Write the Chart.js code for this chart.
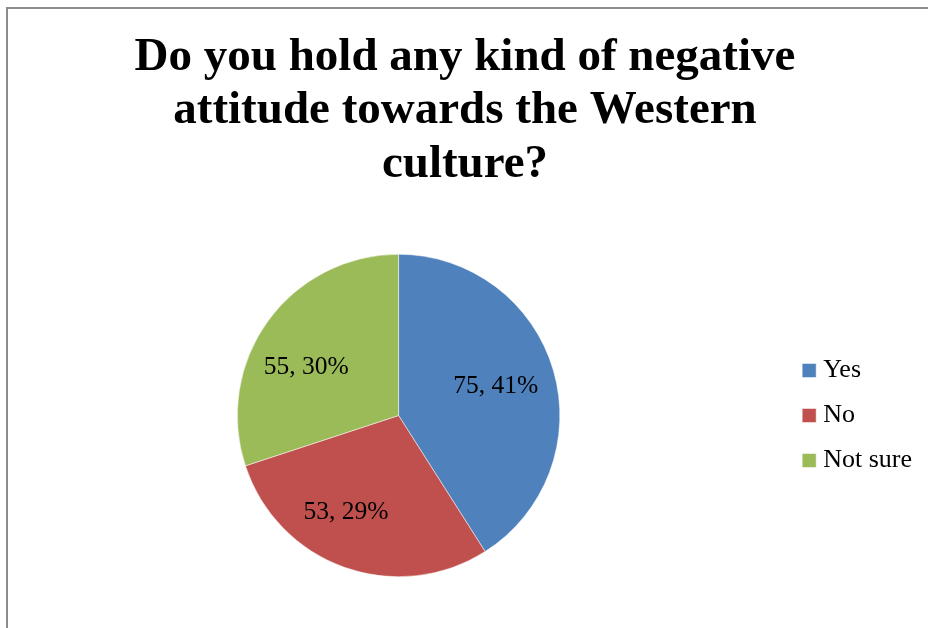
<!DOCTYPE html>
<html>
<head>
<meta charset="utf-8">
<script src="https://cdn.jsdelivr.net/npm/chart.js@4/dist/chart.umd.min.js"></script>
<style>
  html, body { margin: 0; padding: 0; background: #fff; }
  #wrap { position: relative; width: 928px; height: 628px; overflow: hidden; }
  #frame { position: absolute; left: 6px; top: 7px; right: -4px; bottom: -4px;
           border-left: 2px solid #8c8c8c; border-top: 2px solid #8c8c8c; pointer-events: none; }
  canvas { position: absolute; left: 0; top: 0; }
</style>
</head>
<body>
<div id="wrap">
  <canvas id="pieChart" width="928" height="628"></canvas>
  <div id="frame"></div>
</div>
<script>
const titleLines = ['Do you hold any kind of negative', 'attitude towards the Western', 'culture?'];
const categories = ['Yes', 'No', 'Not sure'];
const counts = [75, 53, 55];
const sliceColors = ['#4F81BD', '#C0504D', '#9BBB59'];

const serif = '"Liberation Serif", "Times New Roman", serif';

// value + percentage text inside each slice
const sliceLabels = {
    id: 'sliceLabels',
    afterDatasetsDraw(chart, args, opts) {
        const ctx = chart.ctx;
        const meta = chart.getDatasetMeta(0);
        const data = chart.data.datasets[0].data;
        const total = data.reduce((a, b) => a + b, 0);
        ctx.save();
        ctx.font = opts.fontSize + 'px ' + serif;
        ctx.fillStyle = '#000';
        ctx.textAlign = 'center';
        ctx.textBaseline = 'middle';
        meta.data.forEach((arc, i) => {
            const p = arc.getProps(['x', 'y', 'startAngle', 'endAngle', 'outerRadius'], true);
            const place = opts.placement[i] || { r: 0.65, turn: 0 };
            const mid = (p.startAngle + p.endAngle) / 2 + place.turn * Math.PI / 180;
            const r = p.outerRadius * place.r;
            const pct = Math.round(data[i] / total * 100);
            ctx.fillText(data[i] + ', ' + pct + '%', p.x + Math.cos(mid) * r, p.y + Math.sin(mid) * r);
        });
        ctx.restore();
    }
};

new Chart(document.getElementById('pieChart'), {
    type: 'pie',
    data: {
        labels: categories,
        datasets: [{
            data: counts,
            backgroundColor: sliceColors,
            borderColor: '#ffffff',
            borderWidth: 0.5
        }]
    },
    options: {
        responsive: false,
        animation: false,
        layout: { padding: { top: 0, left: 8, right: 6, bottom: 51 } },
        plugins: {
            title: {
                display: true,
                text: titleLines,
                color: '#000',
                font: { family: serif, size: 47, weight: 'bold', lineHeight: '53.5px' },
                padding: { top: 31, bottom: 62.5 }
            },
            legend: {
                position: 'right',
                fullSize: false,
                labels: {
                    color: '#000',
                    font: { family: serif, size: 26 },
                    usePointStyle: true,
                    pointStyle: 'rect',
                    boxWidth: 2,
                    boxHeight: 14,
                    padding: 19
                }
            },
            tooltip: { enabled: false },
            sliceLabels: {
                fontSize: 25.5,
                placement: [{ r: 0.63, turn: -0.6 }, { r: 0.685, turn: 8.7 }, { r: 0.646, turn: -8.2 }]
            }
        }
    },
    plugins: [sliceLabels]
});
</script>
</body>
</html>
